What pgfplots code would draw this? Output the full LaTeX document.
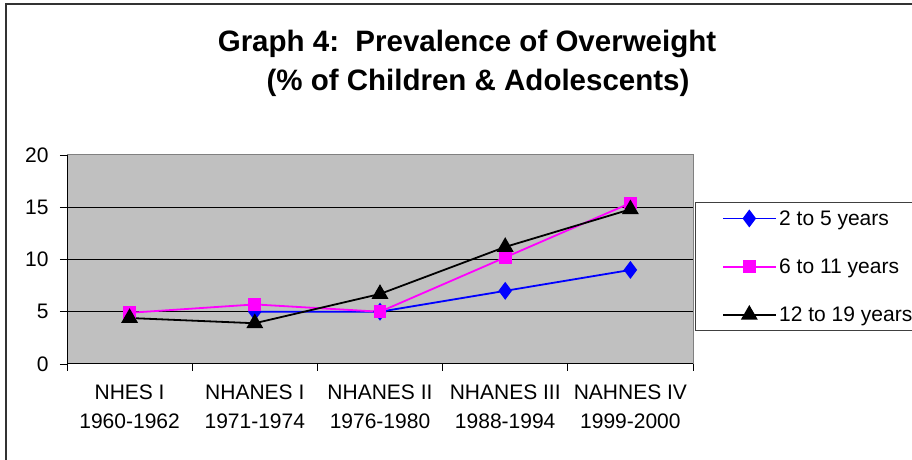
\documentclass[border=0pt]{standalone}
\usepackage{pgfplots}
\pgfplotsset{compat=1.18}
\usepackage{fontspec}
\setmainfont{Liberation Sans}
\definecolor{plotgray}{HTML}{C0C0C0}
\definecolor{bordergray}{HTML}{808080}
\definecolor{mag}{HTML}{FF00FF}
\definecolor{blu}{HTML}{0000FF}
\begin{document}
\begin{tikzpicture}[x=1bp,y=1bp]
\useasboundingbox (0,0) rectangle (912,460);
\clip (0,0) rectangle (912,460);
\draw[line width=1.2bp, black!80] (6,-10) rectangle (930,456);
\node[font=\fontsize{29.5bp}{29.5bp}\selectfont\bfseries] at (467,416) {Graph 4:\ \ Prevalence of Overweight};
\node[font=\fontsize{29.5bp}{29.5bp}\selectfont\bfseries] at (478,377) {(\% of Children \& Adolescents)};
\begin{axis}[
  at={(67bp,96bp)}, anchor=south west,
  width=626bp, height=209bp, scale only axis,
  xmin=0.5, xmax=5.5, ymin=0, ymax=20,
  axis background/.style={fill=plotgray},
  axis line style={draw=bordergray, line width=1bp},
  tick pos=left,
  ytick={0,5,...,20},
  xtick={1,2,3,4,5},
  xticklabels={{NHES I\\1960-1962},{NHANES I\\1971-1974},{NHANES II\\1976-1980},{NHANES III\\1988-1994},{NAHNES IV\\1999-2000}},
  minor xtick={0.5,1.5,2.5,3.5,4.5,5.5},
  tick align=outside,
  major tick length=7bp,
  minor tick length=7bp,
  xtick style={draw=none},
  minor x tick style={draw=black, line width=0.8bp},
  ytick style={draw=black, line width=0.8bp},
  xticklabel style={align=center, font=\fontsize{21bp}{29bp}\selectfont, yshift=-10bp},
  yticklabel style={font=\fontsize{21bp}{21bp}\selectfont, xshift=-8bp},
  /pgf/number format/assume math mode=true,
  legend style={at={(1.0032,0.775)}, anchor=north west, draw=black!75, fill=white,
    font=\fontsize{21bp}{21bp}\selectfont, row sep=28bp, inner xsep=27bp, inner ysep=6bp,
    line width=0.8bp},
  legend cell align=left,
  legend image code/.code={\draw[mark repeat=2,mark phase=2,#1] plot coordinates {(0bp,0bp)(26bp,0bp)(53bp,0bp)};},
]
\draw[black, line width=1bp] (axis cs:0.5,5) -- (axis cs:5.5,5);
\draw[black, line width=1bp] (axis cs:0.5,10) -- (axis cs:5.5,10);
\draw[black, line width=1bp] (axis cs:0.5,15) -- (axis cs:5.5,15);
\addplot[blu, line width=1.8bp, mark=diamond*, mark size=7.5bp, mark options={fill=blu}] coordinates {(2,5.0) (3,5.0) (4,7.0) (5,9.0)};
\addlegendentry{2 to 5 years}
\addplot[mag, line width=1.8bp, mark=square*, mark size=5.5bp, mark options={fill=mag}] coordinates {(1,4.9) (2,5.7) (3,5.0) (4,10.2) (5,15.4)};
\addlegendentry{6 to 11 years}
\addplot[black, line width=1.8bp, mark=triangle*, mark size=8bp, mark options={fill=black}] coordinates {(1,4.4) (2,3.9) (3,6.7) (4,11.2) (5,14.8)};
\addlegendentry{12 to 19 years}
\draw[black, line width=1bp] (rel axis cs:0,1) -- (rel axis cs:0,0) -- (rel axis cs:1,0);
\end{axis}
\end{tikzpicture}
\end{document}
